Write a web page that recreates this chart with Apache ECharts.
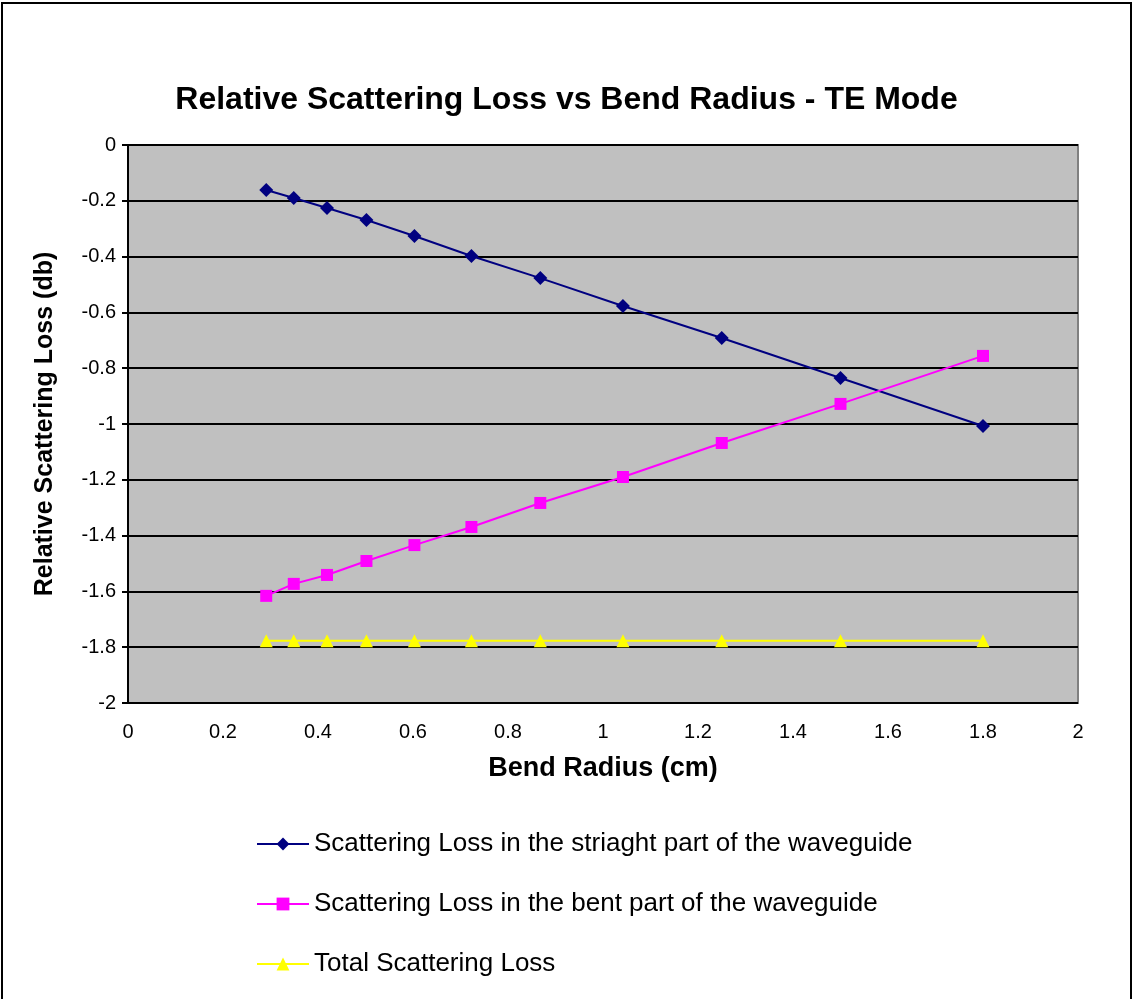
<!DOCTYPE html>
<html>
<head>
<meta charset="utf-8">
<script src="https://cdn.jsdelivr.net/npm/echarts@6/dist/echarts.min.js"></script>
<style>
  html, body { margin: 0; padding: 0; background: #fff; }
  #main { width: 1133px; height: 999px; }
</style>
</head>
<body>
<div id="main"></div>
<script>
// bend radius (cm)
var radius = [0.291, 0.349, 0.419, 0.502, 0.603, 0.723, 0.868, 1.042, 1.25, 1.5, 1.8];
// relative scattering loss (db)
var straightLoss = [-0.161, -0.19, -0.226, -0.269, -0.326, -0.398, -0.477, -0.577, -0.692, -0.835, -1.007];
var bentLoss = [-1.616, -1.573, -1.541, -1.491, -1.434, -1.369, -1.283, -1.19, -1.068, -0.928, -0.756];
var totalLoss = [-1.777, -1.777, -1.777, -1.777, -1.777, -1.777, -1.777, -1.777, -1.777, -1.777, -1.777];

var names = [
    'Scattering Loss in the striaght part of the waveguide',
    'Scattering Loss in the bent part of the waveguide',
    'Total Scattering Loss'
];

function pairs(ys) {
    return radius.map(function (x, i) { return [x, ys[i]]; });
}

var chartDom = document.getElementById('main');
var myChart = echarts.init(chartDom);
var font = 'Liberation Sans, Arial, sans-serif';

var option = {
    animation: false,
    textStyle: { fontFamily: font },
    title: {
        text: 'Relative Scattering Loss vs Bend Radius - TE Mode',
        left: 'center',
        top: 79,
        textStyle: { fontSize: 32, fontWeight: 'bold', color: '#000', fontFamily: font }
    },
    graphic: [{
        type: 'rect',
        shape: { x: 2, y: 3, width: 1129, height: 1000 },
        style: { fill: 'none', stroke: '#000', lineWidth: 2 },
        silent: true
    }],
    grid: {
        left: 128,
        top: 145,
        right: 55,
        bottom: 296,
        show: true,
        backgroundColor: '#C0C0C0',
        borderColor: '#808080',
        borderWidth: 2
    },
    legend: {
        orient: 'vertical',
        left: 251,
        top: 826,
        itemGap: 34,
        itemWidth: 52,
        itemHeight: 16,
        textStyle: { fontSize: 26, color: '#000', fontFamily: font },
        data: names
    },
    xAxis: {
        type: 'value',
        min: 0,
        max: 2,
        interval: 0.2,
        name: 'Bend Radius (cm)',
        nameLocation: 'middle',
        nameGap: 52,
        nameTextStyle: { fontSize: 27, fontWeight: 'bold', color: '#000' },
        axisLine: { show: false },
        axisTick: { show: false },
        splitLine: { show: false },
        axisLabel: { fontSize: 20, color: '#000', margin: 19 }
    },
    yAxis: {
        type: 'value',
        min: -2,
        max: 0,
        interval: 0.2,
        name: 'Relative Scattering Loss (db)',
        nameLocation: 'middle',
        nameGap: 70,
        nameTextStyle: { fontSize: 25, fontWeight: 'bold', color: '#000' },
        axisLine: { show: true, onZero: false, lineStyle: { color: '#000', width: 2 } },
        axisTick: { show: true, inside: false, length: 6, lineStyle: { color: '#000', width: 2 } },
        splitLine: { show: true, lineStyle: { color: '#000', width: 2 } },
        axisLabel: { fontSize: 20, color: '#000', margin: 12 }
    },
    series: [
        {
            name: names[0],
            type: 'line',
            data: pairs(straightLoss),
            symbol: 'diamond',
            symbolSize: 14,
            itemStyle: { color: '#000080' },
            lineStyle: { color: '#000080', width: 2 }
        },
        {
            name: names[1],
            type: 'line',
            data: pairs(bentLoss),
            symbol: 'rect',
            symbolSize: 12,
            itemStyle: { color: '#FF00FF' },
            lineStyle: { color: '#FF00FF', width: 2 }
        },
        {
            name: names[2],
            type: 'line',
            data: pairs(totalLoss),
            symbol: 'triangle',
            symbolSize: 13,
            itemStyle: { color: '#FFFF00' },
            lineStyle: { color: '#FFFF00', width: 2 }
        }
    ]
};

option && myChart.setOption(option);
</script>
</body>
</html>
